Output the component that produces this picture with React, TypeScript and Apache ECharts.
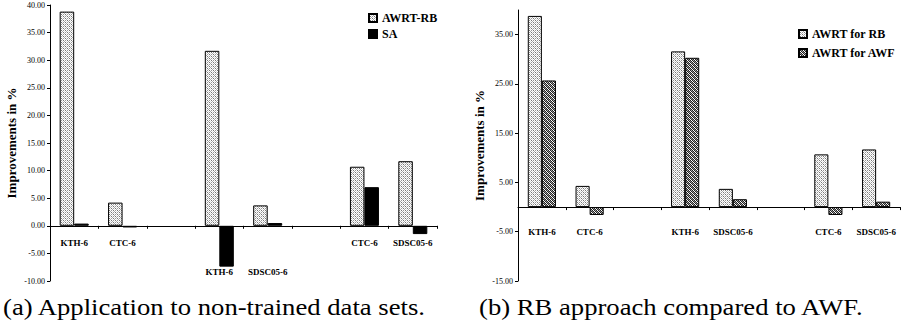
import React, { useEffect, useRef } from "react";
import * as echarts from "echarts";

const categories = ["KTH-6", "CTC-6", "", "KTH-6", "SDSC05-6", "", "CTC-6", "SDSC05-6"];
const lowLabelIdx = [3, 4];
const awrtRb = [38.8, 4.2, null, 31.7, 3.7, null, 10.7, 11.7];
const sa = [0.4, -0.3, null, -7.4, 0.5, null, 7.0, -1.5];
const awrtForRb = [38.8, 4.3, null, 31.6, 3.7, null, 10.7, 11.7];
const awrtForAwf = [25.7, -1.6, null, 30.3, 1.6, null, -1.6, 1.1];
const leftRange = { min: -10, max: 40, interval: 5 };
const rightRange = { min: -15, max: 40, interval: 10 };
const captionA = "(a) Application to non-trained data sets.";
const captionB = "(b) RB approach compared to AWF.";
const yName = "Improvements in %";

const FONT = "'Liberation Serif', 'Times New Roman', Times, serif";

const lightTile = [
  ["#fff", "#999", "#fff", "#777"],
  ["#aaa", "#fff", "#ddd", "#fff"],
  ["#fff", "#777", "#fff", "#999"],
  ["#ddd", "#fff", "#aaa", "#fff"],
];
const darkTile = [
  ["#222", "#aaa", "#222", "#fff"],
  ["#fff", "#222", "#888", "#222"],
  ["#222", "#fff", "#222", "#aaa"],
  ["#888", "#222", "#fff", "#222"],
];

function makePattern(tile: string[][]) {
  const c = document.createElement("canvas");
  c.width = tile[0].length;
  c.height = tile.length;
  const ctx = c.getContext("2d")!;
  tile.forEach((row, y) =>
    row.forEach((col, x) => {
      ctx.fillStyle = col;
      ctx.fillRect(x, y, 1, 1);
    })
  );
  return {
    image: c.toDataURL(),
    repeat: "repeat",
    imageWidth: c.width,
    imageHeight: c.height,
  };
}

export default function App() {
  const ref = useRef<HTMLDivElement>(null);
  useEffect(() => {
    if (!ref.current) return;
    const chart = echarts.init(ref.current, null, { renderer: "svg" });
    const lightPat = makePattern(lightTile);
    const darkPat = makePattern(darkTile);
    const grids = [
      { left: 50, top: 5, width: 387, height: 276 },
      { left: 518, top: 10, width: 382, height: 271 },
    ];
    const ranges = [leftRange, rightRange];
    const yAxisCommon = (idx: number) => ({
      type: "value",
      gridIndex: idx,
      min: ranges[idx].min,
      max: ranges[idx].max,
      interval: ranges[idx].interval,
      name: yName,
      nameLocation: "middle",
      nameGap: 32,
      nameTextStyle: { fontFamily: FONT, fontWeight: "bold", fontSize: 13, color: "#000" },
      splitLine: { show: false },
      axisLine: { show: true, lineStyle: { color: "#000", width: 1 } },
      axisTick: { show: true, length: 3, lineStyle: { color: "#000" } },
      axisLabel: {
        fontFamily: FONT,
        fontSize: 8,
        color: "#000",
        margin: 5,
        showMaxLabel: idx === 0,
        formatter: (v: number) => v.toFixed(2),
      },
    });
    const zeroOffset = (idx: number) => {
      const r = ranges[idx];
      return -((0 - r.min) / (r.max - r.min)) * grids[idx].height;
    };
    const xAxisCommon = (idx: number, margin: number, low: number[]) => ({
      type: "category",
      gridIndex: idx,
      position: "bottom",
      offset: zeroOffset(idx),
      data: categories.map((c, i) =>
        low.includes(i) ? { value: c, textStyle: { padding: [29, 0, 0, 0] } } : c
      ),
      axisLine: { show: true, onZero: false, lineStyle: { color: "#000", width: 1 } },
      axisTick: { show: true, length: 3, lineStyle: { color: "#000" } },
      axisLabel: {
        fontFamily: FONT,
        fontWeight: "bold",
        fontSize: 9,
        color: "#000",
        margin,
        interval: 0,
      },
    });
    const legendText = (size: number) => ({
      fontFamily: FONT,
      fontWeight: "bold",
      fontSize: size,
      color: "#000",
    });
    chart.setOption({
      animation: false,
      grid: grids,
      xAxis: [xAxisCommon(0, 13, lowLabelIdx), xAxisCommon(1, 20, [])],
      yAxis: [yAxisCommon(0), yAxisCommon(1)],
      legend: [
        {
          data: ["AWRT-RB", "SA"],
          orient: "vertical",
          left: 368,
          top: 12,
          itemWidth: 8,
          itemHeight: 8,
          itemGap: 4,
          icon: "rect",
          textStyle: legendText(12),
          padding: 0,
        },
        {
          data: ["AWRT for RB", "AWRT for AWF"],
          orient: "vertical",
          left: 798,
          top: 28,
          itemWidth: 8,
          itemHeight: 8,
          itemGap: 7,
          icon: "rect",
          textStyle: legendText(12),
          padding: 0,
        },
      ],
      graphic: [
        {
          type: "text",
          x: 3,
          y: 296,
          scaleX: 1.16,
          style: { text: captionA, font: `23px ${FONT}`, fill: "#000" },
        },
        {
          type: "text",
          x: 479,
          y: 296,
          scaleX: 1.16,
          style: { text: captionB, font: `23px ${FONT}`, fill: "#000" },
        },
      ],
      series: [
        {
          name: "AWRT-RB",
          type: "bar",
          xAxisIndex: 0,
          yAxisIndex: 0,
          data: awrtRb,
          barGap: "0%",
          barCategoryGap: "40%",
          itemStyle: { color: lightPat, borderColor: "#000", borderWidth: 1 },
        },
        {
          name: "SA",
          type: "bar",
          xAxisIndex: 0,
          yAxisIndex: 0,
          data: sa,
          barGap: "0%",
          barCategoryGap: "40%",
          itemStyle: { color: "#000", borderColor: "#000", borderWidth: 1 },
        },
        {
          name: "AWRT for RB",
          type: "bar",
          xAxisIndex: 1,
          yAxisIndex: 1,
          data: awrtForRb,
          barGap: "0%",
          barCategoryGap: "41%",
          itemStyle: { color: lightPat, borderColor: "#000", borderWidth: 1 },
        },
        {
          name: "AWRT for AWF",
          type: "bar",
          xAxisIndex: 1,
          yAxisIndex: 1,
          data: awrtForAwf,
          barGap: "0%",
          barCategoryGap: "41%",
          itemStyle: { color: darkPat, borderColor: "#000", borderWidth: 1 },
        },
      ],
    });
    return () => chart.dispose();
  }, []);
  return (
    <div
      ref={ref}
      style={{ position: "fixed", left: 0, top: 0, width: 903, height: 326, background: "#fff" }}
    />
  );
}
